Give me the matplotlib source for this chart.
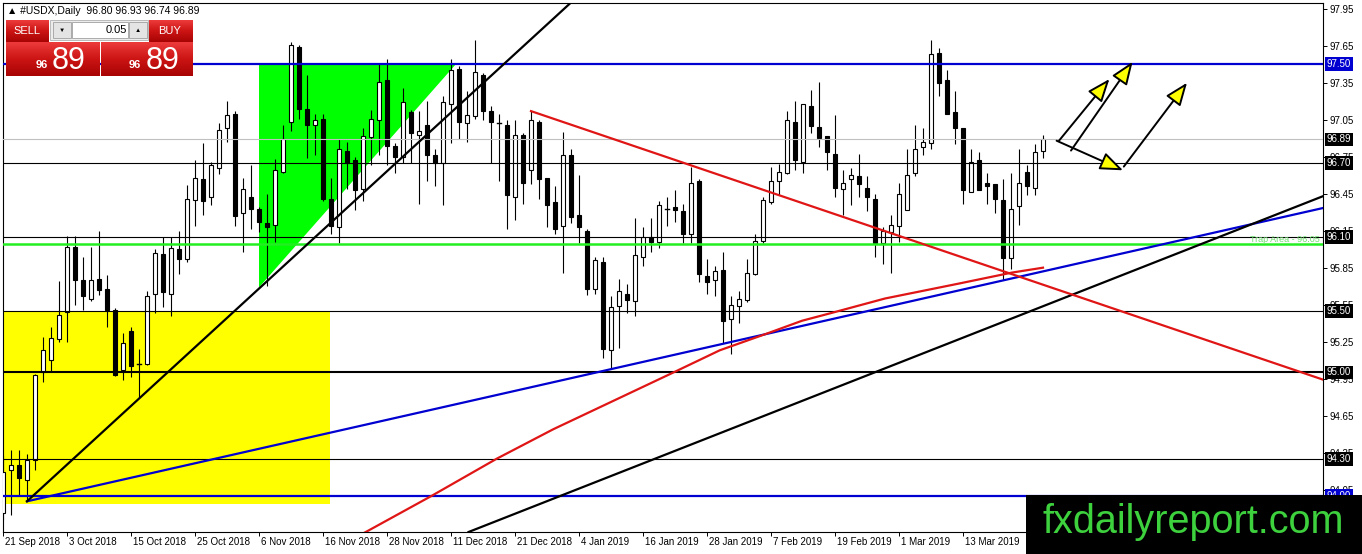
import matplotlib
matplotlib.use('Agg')
import matplotlib.pyplot as plt
from matplotlib.patches import Rectangle, Polygon, FancyArrowPatch
from matplotlib.colors import LinearSegmentedColormap
import numpy as np

plt.rcParams['font.family'] = ['Liberation Sans', 'DejaVu Sans']

# daily USDX bars, 21 Sep 2018 .. end of Mar 2019
opens = [93.86, 94.21, 94.25, 94.13, 94.29, 95.00, 95.10, 95.27, 95.49, 96.02,
         95.75, 95.60, 95.76, 95.68, 95.51, 95.02, 95.34, 95.07, 95.07, 95.64,
         95.96, 95.64, 96.00, 95.92, 96.40, 96.57, 96.42, 96.66, 96.98, 97.10,
         96.29, 96.42, 96.33, 96.21, 96.20, 96.63, 97.03, 97.64, 97.14, 97.01,
         97.06, 96.41, 96.18, 96.80, 96.72, 96.49, 96.91, 97.05, 97.37, 96.84,
         96.75, 97.11, 96.93, 97.01, 96.76, 96.70, 97.18, 97.46, 97.02, 97.08,
         97.41, 97.12, 97.02, 97.01, 96.42, 96.93, 96.64, 97.03, 96.58, 96.38,
         96.19, 96.76, 96.28, 96.15, 95.68, 95.90, 95.18, 95.54, 95.64, 95.58,
         95.94, 96.10, 96.06, 96.33, 96.34, 96.31, 96.12, 96.55, 95.78, 95.75,
         95.83, 95.43, 95.54, 95.59, 95.80, 96.07, 96.38, 96.55, 96.62, 97.03,
         96.71, 97.16, 96.99, 96.92, 96.77, 96.49, 96.57, 96.59, 96.50, 96.41,
         96.05, 96.14, 96.19, 96.32, 96.62, 96.83, 96.86, 97.59, 97.37, 97.11,
         96.98, 96.46, 96.72, 96.54, 96.53, 96.40, 95.93, 96.35, 96.63, 96.50,
         96.80]
highs = [94.33, 94.37, 94.37, 94.34, 94.99, 95.29, 95.37, 95.74, 96.11, 96.11,
         95.94, 96.02, 96.15, 95.79, 95.52, 95.32, 95.37, 95.19, 95.66, 96.00,
         96.10, 96.10, 96.15, 96.52, 96.72, 96.86, 96.71, 97.02, 97.20, 97.12,
         96.58, 96.68, 96.34, 96.45, 96.73, 97.01, 97.68, 97.66, 97.41, 97.10,
         97.10, 96.58, 96.89, 96.87, 96.75, 96.98, 97.13, 97.50, 97.54, 96.86,
         97.31, 97.13, 97.12, 97.20, 96.81, 97.24, 97.54, 97.49, 97.28, 97.70,
         97.43, 97.16, 97.10, 97.05, 97.05, 96.94, 97.12, 97.05, 96.58, 96.51,
         96.95, 96.81, 96.60, 96.16, 95.94, 95.94, 95.62, 95.76, 95.72, 96.25,
         96.18, 96.25, 96.39, 96.42, 96.48, 96.37, 96.67, 96.57, 95.92, 95.86,
         95.98, 95.62, 95.66, 95.92, 96.12, 96.42, 96.67, 96.69, 97.12, 97.20,
         97.18, 97.29, 97.36, 96.92, 97.09, 96.64, 96.66, 96.77, 96.59, 96.45,
         96.18, 96.28, 96.54, 96.81, 97.01, 96.98, 97.70, 97.63, 97.45, 97.28,
         96.98, 96.81, 96.79, 96.62, 96.53, 96.57, 96.62, 96.81, 96.68, 96.85,
         96.93]
lows = [93.80, 93.84, 94.00, 93.96, 94.21, 94.92, 95.01, 95.25, 95.25, 95.55,
        95.51, 95.58, 95.63, 95.37, 94.97, 94.94, 94.96, 94.79, 95.06, 95.48,
        95.53, 95.46, 95.80, 95.90, 96.19, 96.28, 96.36, 96.61, 96.87, 96.19,
        95.98, 96.16, 96.14, 95.70, 96.06, 96.62, 96.96, 97.06, 96.74, 96.76,
        96.39, 96.12, 96.05, 96.49, 96.32, 96.39, 96.68, 96.76, 96.68, 96.62,
        96.70, 96.70, 96.37, 96.55, 96.51, 96.36, 96.86, 96.89, 96.87, 97.06,
        97.05, 96.70, 96.55, 96.16, 96.24, 96.37, 96.53, 96.41, 96.18, 96.12,
        95.81, 96.21, 96.05, 95.63, 95.64, 95.12, 95.04, 95.20, 95.48, 95.46,
        95.86, 95.98, 96.01, 96.19, 96.22, 96.05, 96.05, 95.73, 95.64, 95.62,
        95.24, 95.15, 95.40, 95.57, 95.79, 96.05, 96.37, 96.44, 96.61, 96.64,
        96.62, 96.94, 96.83, 96.64, 96.42, 96.28, 96.36, 96.42, 96.31, 95.94,
        95.88, 95.81, 96.06, 96.32, 96.59, 96.76, 96.81, 97.24, 97.10, 96.85,
        96.37, 96.46, 96.48, 96.37, 96.29, 95.75, 95.84, 96.20, 96.44, 96.44,
        96.74]
closes = [94.19, 94.25, 94.14, 94.29, 94.98, 95.18, 95.28, 95.47, 96.02, 95.75,
          95.62, 95.75, 95.67, 95.51, 94.98, 95.24, 95.05, 95.07, 95.62, 95.97,
          95.65, 96.01, 95.92, 96.41, 96.58, 96.39, 96.68, 96.97, 97.09, 96.27,
          96.49, 96.33, 96.22, 96.18, 96.64, 96.89, 97.66, 97.14, 97.01, 97.05,
          96.41, 96.19, 96.81, 96.70, 96.48, 96.92, 97.06, 97.36, 96.84, 96.75,
          97.19, 96.94, 96.96, 96.76, 96.70, 97.19, 97.45, 97.03, 97.09, 97.44,
          97.12, 97.03, 97.02, 96.44, 96.93, 96.54, 97.05, 96.57, 96.36, 96.16,
          96.76, 96.26, 96.18, 95.68, 95.91, 95.19, 95.53, 95.66, 95.59, 95.95,
          96.10, 96.06, 96.36, 96.33, 96.32, 96.12, 96.54, 95.80, 95.73, 95.82,
          95.42, 95.55, 95.60, 95.81, 96.07, 96.40, 96.55, 96.63, 97.05, 96.72,
          97.18, 97.00, 96.90, 96.79, 96.50, 96.54, 96.60, 96.53, 96.42, 96.05,
          96.15, 96.20, 96.45, 96.60, 96.81, 96.87, 97.58, 97.35, 97.10, 96.98,
          96.48, 96.71, 96.48, 96.51, 96.41, 95.93, 96.33, 96.54, 96.51, 96.79,
          96.89]

date_bars = [0, 8, 16, 24, 32, 40, 48, 56, 64, 72, 80, 88, 96, 104, 112, 120]
date_labels = ['21 Sep 2018', '3 Oct 2018', '15 Oct 2018', '25 Oct 2018',
               '6 Nov 2018', '16 Nov 2018', '28 Nov 2018', '11 Dec 2018',
               '21 Dec 2018', '4 Jan 2019', '16 Jan 2019', '28 Jan 2019',
               '7 Feb 2019', '19 Feb 2019', '1 Mar 2019', '13 Mar 2019']
price_ticks = [97.95, 97.65, 97.35, 97.05, 96.75, 96.45, 96.15, 95.85,
               95.55, 95.25, 94.95, 94.65, 94.35, 94.05]

# drawn objects
resistance = 97.50
support_low = 94.00
black_levels = [96.70, 96.10, 95.50, 94.30]
strong_level = 95.00
bid = 96.89
trap_level = 96.04
trap_text = 'Trap Area - 96.05'

box_bars = [-1, 40.9]
box_prices = [93.93, 95.50]
tri_bars = [32, 32, 56.6]
tri_prices = [97.50, 95.69, 97.50]

ma_bars = [44.9, 53.6, 61.7, 68.8, 83.8, 89.6, 95.25, 99.9, 103.4, 110.25,
           119.4, 126.1, 130]
ma_vals = [93.69, 94.00, 94.30, 94.54, 95.00, 95.18, 95.31, 95.42, 95.48,
           95.60, 95.72, 95.81, 95.85]

blue_trend = [(3, 93.955), (130, 95.82)]
steep_trend = [(3, 93.955), (33, 95.74)]
lower_trend = [(57.96, 93.70), (165.0, 96.43)]
down_trend = [(66, 97.12), (86, 96.68)]

arrow_tails = [(132.0, 96.88), (133.5, 96.80), (131.7, 96.88), (140.1, 96.67)]
arrow_tips = [(138.3, 97.38), (141.2, 97.52), (140.0, 96.64), (148.0, 97.35)]

header = '\u25b2 #USDX,Daily  96.80 96.93 96.74 96.89'
quote_big = '89'
quote_small = '96'
lot = '0.05'

W, H = 1362, 554
fig = plt.figure(figsize=(W / 100, H / 100), dpi=100)
ax = fig.add_axes([3 / W, (H - 532) / H, 1320 / W, 529 / H])
XMAX = 165
ax.set_xlim(0, XMAX)
ax.set_ylim(93.706, 97.997)

# background shapes
ax.add_patch(Rectangle((box_bars[0], box_prices[0]), box_bars[1] - box_bars[0],
                       box_prices[1] - box_prices[0], fc='#ffff00', ec='none', zorder=1))
ax.add_patch(Polygon(np.column_stack([tri_bars, tri_prices]), closed=True,
                     fc='#00ff00', ec='none', zorder=1))

# candles
for i, (o, h, l, c) in enumerate(zip(opens, highs, lows, closes)):
    ax.plot([i, i], [l, h], color='black', lw=0.8, zorder=3, solid_capstyle='butt')
    lo, hi = min(o, c), max(o, c)
    if hi - lo < 0.012:
        ax.plot([i - 0.3, i + 0.3], [o, o], color='black', lw=1.0, zorder=4)
    else:
        ax.add_patch(Rectangle((i - 0.28, lo), 0.56, hi - lo,
                               fc='white' if c > o else 'black',
                               ec='black', lw=0.8, zorder=4))

# horizontal levels
ax.axhline(bid, color='#c0c0c0', lw=0.8, zorder=5)
for lv in black_levels:
    ax.axhline(lv, color='black', lw=0.8, zorder=5)
ax.axhline(strong_level, color='black', lw=1.5, zorder=5)
ax.axhline(resistance, color='#0000d0', lw=1.6, zorder=5)
ax.axhline(support_low, color='#0000d0', lw=1.6, zorder=5)
ax.axhline(trap_level, color='#22ee22', lw=1.8, zorder=5)


def ray(p0, p1, **kw):
    slope = (p1[1] - p0[1]) / (p1[0] - p0[0])
    ax.plot([p0[0], XMAX], [p0[1], p0[1] + slope * (XMAX - p0[0])], **kw)


ray(*blue_trend, color='#0000d0', lw=1.6, zorder=6)
ray(*steep_trend, color='black', lw=1.6, zorder=6)
ax.axline(*lower_trend, color='black', lw=1.6, zorder=6)
ray(*down_trend, color='#e01515', lw=1.6, zorder=6)
ax.plot(ma_bars, ma_vals, color='#e01515', lw=1.6, zorder=6)

for t, h in zip(arrow_tails, arrow_tips):
    ax.add_patch(FancyArrowPatch(t, h, arrowstyle='-|>,head_length=1.4,head_width=0.55',
                                 mutation_scale=10, fc='#ffff00', ec='black',
                                 lw=1.4, shrinkA=0, shrinkB=0, zorder=7))

ax.annotate(trap_text, xy=(1, trap_level), xycoords=('axes fraction', 'data'),
            xytext=(-2, 0), textcoords='offset points', ha='right', va='bottom',
            fontsize=6.5, color='#70e070', zorder=7)

# axes frame / ticks
for s in ax.spines.values():
    s.set_linewidth(0.8)
ax.yaxis.tick_right()
ax.set_yticks(price_ticks)
ax.set_yticklabels([f'{v:.2f}' for v in price_ticks], fontsize=7)
ax.tick_params(axis='y', direction='out', length=3, width=0.7, pad=2)
ax.set_xticks(date_bars)
ax.set_xticklabels([])
ax.tick_params(axis='x', direction='out', length=3, width=0.7)
for b, lab in zip(date_bars, date_labels):
    ax.annotate(lab, xy=(b, 0), xycoords=('data', 'axes fraction'),
                xytext=(1.5, -7.5), textcoords='offset points', ha='left',
                va='center', fontsize=7, annotation_clip=False)

# price boxes on the right scale
for lv, bg in [(resistance, '#0000d0'), (bid, 'black')] + \
              [(lv, 'black') for lv in black_levels + [strong_level]] + \
              [(support_low, '#0000d0')]:
    ax.annotate(f'{lv:.2f}', xy=(1, lv), xycoords=('axes fraction', 'data'),
                xytext=(2.5, 0), textcoords='offset points', ha='left', va='center',
                fontsize=7, color='white', annotation_clip=False, zorder=10,
                bbox=dict(boxstyle='square,pad=0.2', fc=bg, ec='none'))


# ---- trading panel (top-left) ----
def px_rect(x0, y0, x1, y1, **kw):
    fig.add_artist(Rectangle((x0 / W, 1 - y1 / H), (x1 - x0) / W, (y1 - y0) / H,
                             transform=fig.transFigure, **kw))


red_cmap = LinearSegmentedColormap.from_list('mt4red', ['#ec3a3a', '#cc1414', '#a80404'])


def red_box(x0, y0, x1, y1):
    a = fig.add_axes([x0 / W, 1 - y1 / H, (x1 - x0) / W, (y1 - y0) / H], zorder=10)
    a.imshow(np.linspace(0, 1, 40)[:, None], cmap=red_cmap, aspect='auto')
    a.axis('off')


def ftext(x, y, s, zorder=12, **kw):
    fig.text(x / W, 1 - y / H, s, zorder=zorder, **kw)


ftext(7, 11, header, fontsize=7.5, va='center', ha='left')
red_box(6, 20, 49, 42)
red_box(149, 20, 193, 42)
red_box(6, 42, 99, 76)
red_box(101, 42, 193, 76)
px_rect(50, 20, 148, 40, fc='#ececec', ec='#b0b0b0', lw=0.6, zorder=10)
px_rect(53, 22, 71, 38, fc='#e4e4e4', ec='#a0a0a0', lw=0.6, zorder=11)
px_rect(72, 22, 128, 38, fc='white', ec='#a0a0a0', lw=0.6, zorder=11)
px_rect(129, 22, 147, 38, fc='#e4e4e4', ec='#a0a0a0', lw=0.6, zorder=11)
ftext(62, 30, '\u25bc', fontsize=4.5, ha='center', va='center')
ftext(138, 30, '\u25b2', fontsize=4.5, ha='center', va='center')
ftext(127, 30, lot, fontsize=8, ha='right', va='center')
ftext(27, 31, 'SELL', fontsize=8, color='white', ha='center', va='center')
ftext(170, 31, 'BUY', fontsize=8, color='white', ha='center', va='center')
for x_small, x_big in [(36, 52), (129, 146)]:
    ftext(x_small, 68, quote_small, fontsize=8, color='white', ha='left', va='baseline',
          fontweight='bold')
    ftext(x_big, 69, quote_big, fontsize=22, color='white', ha='left', va='baseline')

# watermark box
px_rect(1026, 495, W, H, fc='black', ec='none', zorder=20)
ftext(1193, 533, 'fxdailyreport.com', zorder=21, fontsize=28.5, color='#3ed13e',
      ha='center', va='baseline')

fig.savefig('out.png', dpi=100)
